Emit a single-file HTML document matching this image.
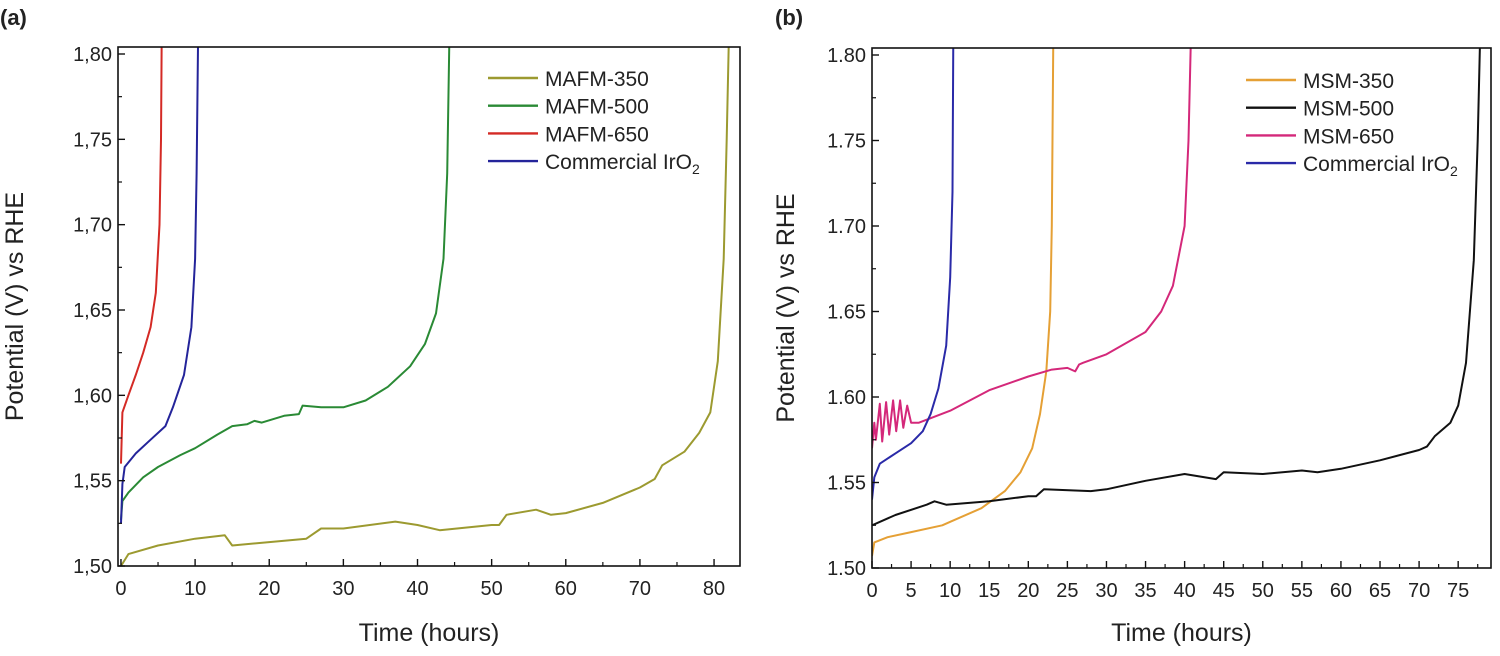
<!DOCTYPE html>
<html><head><meta charset="utf-8"><style>
body{margin:0;background:#fff;}
svg text{font-family:"Liberation Sans",sans-serif;fill:#222;}
</style></head><body>
<svg id="c" width="1500" height="651" viewBox="0 0 1500 651" xmlns="http://www.w3.org/2000/svg"></svg>
<script>
// Panel (a) data
const aTicksX=[0,10,20,30,40,50,60,70,80];
const aTicksY=[1.50,1.55,1.60,1.65,1.70,1.75,1.80];
const aTickLabelsY=["1,50","1,55","1,60","1,65","1,70","1,75","1,80"];
const a350x=[0,1,5,10,14,15,20,25,27,30,37,40,43,50,51,52,56,58,60,65,70,72,73,76,78,79.5,80.5,81.3,81.7,82];
const a350y=[1.50,1.507,1.512,1.516,1.518,1.512,1.514,1.516,1.522,1.522,1.526,1.524,1.521,1.524,1.524,1.530,1.533,1.530,1.531,1.537,1.546,1.551,1.559,1.567,1.578,1.590,1.62,1.68,1.75,1.81];
const a500x=[0,0.2,1,3,5,8,10,13,15,17,18,19,22,24,24.5,27,30,33,36,39,41,42.5,43.5,44,44.3];
const a500y=[1.527,1.538,1.543,1.552,1.558,1.565,1.569,1.577,1.582,1.583,1.585,1.584,1.588,1.589,1.594,1.593,1.593,1.597,1.605,1.617,1.630,1.648,1.68,1.73,1.81];
const a650x=[0,0.2,1,2,3,4,4.7,5.2,5.4,5.5];
const a650y=[1.56,1.59,1.60,1.612,1.625,1.64,1.66,1.70,1.75,1.81];
const aIrx=[0,0.2,0.5,2,4,6,7,8.5,9.5,10,10.2,10.4];
const aIry=[1.525,1.548,1.558,1.566,1.574,1.582,1.593,1.612,1.64,1.68,1.73,1.81];
// Panel (b) data
const bTicksX=[0,5,10,15,20,25,30,35,40,45,50,55,60,65,70,75];
const bTicksY=[1.50,1.55,1.60,1.65,1.70,1.75,1.80];
const bTickLabelsY=["1.50","1.55","1.60","1.65","1.70","1.75","1.80"];
const b350x=[0,0.3,2,5,9,10,14,17,19,20.5,21.5,22.3,22.8,23,23.2];
const b350y=[1.507,1.515,1.518,1.521,1.525,1.527,1.535,1.545,1.556,1.57,1.59,1.615,1.65,1.70,1.81];
const b500x=[0,3,7,8,9.5,15,20,21,22,28,30,35,40,44,45,50,55,57,60,65,70,71,72,74,75,76,77,77.5,77.8];
const b500y=[1.525,1.531,1.537,1.539,1.537,1.539,1.542,1.542,1.546,1.545,1.546,1.551,1.555,1.552,1.556,1.555,1.557,1.556,1.558,1.563,1.569,1.571,1.577,1.585,1.595,1.62,1.68,1.75,1.81];
const b650x=[0,0.3,0.5,1,1.3,1.8,2.2,2.7,3.1,3.6,4,4.5,5,6,10,15,20,23,25,26,26.5,27,30,35,37,38.5,40,40.5,40.8];
const b650y=[1.57,1.585,1.575,1.596,1.574,1.597,1.578,1.598,1.580,1.598,1.582,1.595,1.585,1.585,1.592,1.604,1.612,1.616,1.617,1.615,1.619,1.620,1.625,1.638,1.650,1.665,1.70,1.75,1.81];
const bIrx=[0,0.3,1,3,5,6.5,7.5,8.5,9.5,10,10.3,10.4];
const bIry=[1.54,1.553,1.561,1.567,1.573,1.580,1.590,1.605,1.63,1.67,1.72,1.81];

const NS="http://www.w3.org/2000/svg";
const svg=document.getElementById('c');
function mk(tag,attrs,parent){const e=document.createElementNS(NS,tag);for(const k in attrs)e.setAttribute(k,attrs[k]);(parent||svg).appendChild(e);return e;}

function panel(p){
  const g=mk('g',{});
  
  
  const X=v=>p.x0+(v-p.xmin)/(p.xmax-p.xmin)*(p.x1-p.x0);
  const Y=v=>p.y1-(v-1.5)/(0.3)*(p.y1-p.y0v);
  const cid='clip'+p.id;
  const cp=mk('clipPath',{id:cid},g);mk('rect',{x:p.x0,y:p.top,width:p.x1-p.x0,height:p.y1-p.top},cp);
  p.series.forEach(s=>{
    const d=s.x.map((v,i)=>(i?'L':'M')+X(v).toFixed(1)+','+Y(s.y[i]).toFixed(1)).join('');
    const path=mk('path',{d:d,fill:'none',stroke:s.c,'stroke-width':2,'stroke-linejoin':'round','clip-path':'url(#'+cid+')'},g);
    
    
  });
  const fr=mk('rect',{x:p.x0,y:p.top,width:p.x1-p.x0,height:p.y1-p.top,fill:'none',stroke:'#111','stroke-width':1.6},g);
  
  
  const step=p.xt[1]-p.xt[0];
  p.xt.forEach(v=>{
    const x=X(v);
    mk('line',{x1:x,x2:x,y1:p.y1,y2:p.y1-7,stroke:'#111','stroke-width':1.4},g);
    const m=X(v+step/2); if(v+step/2<p.xmax) mk('line',{x1:m,x2:m,y1:p.y1,y2:p.y1-4,stroke:'#111','stroke-width':1.2},g);
    const t=mk('text',{x:x,y:p.y1+29,'text-anchor':'middle','font-size':20},g);t.textContent=v;
    
    
  });
  p.yt.forEach((v,i)=>{
    const y=Y(v);
    mk('line',{x1:p.x0,x2:p.x0+7,y1:y,y2:y,stroke:'#111','stroke-width':1.4},g);
    if(v<1.8){const m=Y(v+0.025);mk('line',{x1:p.x0,x2:p.x0+4,y1:m,y2:m,stroke:'#111','stroke-width':1.2},g);}
    const t=mk('text',{x:p.x0-6,y:y+7,'text-anchor':'end','font-size':20},g);t.textContent=p.yl[i];
    
    
  });
  const xt=mk('text',{x:(p.x0+p.x1)/2,y:641,'text-anchor':'middle','font-size':25},g);xt.textContent='Time (hours)';
  
  
  const yt=mk('text',{x:0,y:0,'text-anchor':'middle','font-size':25,transform:'translate('+p.ytx+','+((p.top+p.y1)/2)+') rotate(-90)'},g);yt.textContent='Potential (V) vs RHE';
  
  
  const pl=mk('text',{x:p.plx,y:25,'font-size':22,'font-weight':'bold'},g);pl.textContent=p.label;
  
  
  p.series.forEach((s,i)=>{
    const y=p.ly+i*27.7;
    const lg=mk('g',{},g);
    
    
    mk('line',{x1:p.lx,x2:p.lx+50,y1:y,y2:y,stroke:s.c,'stroke-width':2.4},lg);
    const t=mk('text',{x:p.lx+57,y:y+8,'font-size':21},lg);
    if(s.ir){t.textContent='Commercial IrO';const sub=mk('tspan',{'font-size':14,dy:5},t);sub.textContent='2';}
    else t.textContent=s.n;
  });
}
panel({id:'a',name:'panel-a',x0:118,x1:740,xmin:-0.4,xmax:83.5,top:47,y1:566,y0v:54,xt:aTicksX,yt:aTicksY,yl:aTickLabelsY,ytx:23,plx:0,label:'(a)',lx:488,ly:78,
 series:[{n:'MAFM-350',c:'#9c9a30',x:a350x,y:a350y},{n:'MAFM-500',c:'#2a8a35',x:a500x,y:a500y},{n:'MAFM-650',c:'#d42a25',x:a650x,y:a650y},{n:'commercial-iro2',c:'#24249a',x:aIrx,y:aIry,ir:1}]});
panel({id:'b',name:'panel-b',x0:872,x1:1491,xmin:0,xmax:79.2,top:48,y1:568,y0v:55,xt:bTicksX,yt:bTicksY,yl:bTickLabelsY,ytx:794,plx:775,label:'(b)',lx:1246,ly:80,
 series:[{n:'MSM-350',c:'#e5a035',x:b350x,y:b350y},{n:'MSM-500',c:'#111111',x:b500x,y:b500y},{n:'MSM-650',c:'#d4287a',x:b650x,y:b650y},{n:'commercial-iro2',c:'#2a2aa8',x:bIrx,y:bIry,ir:1}]});
</script>
</body></html>
